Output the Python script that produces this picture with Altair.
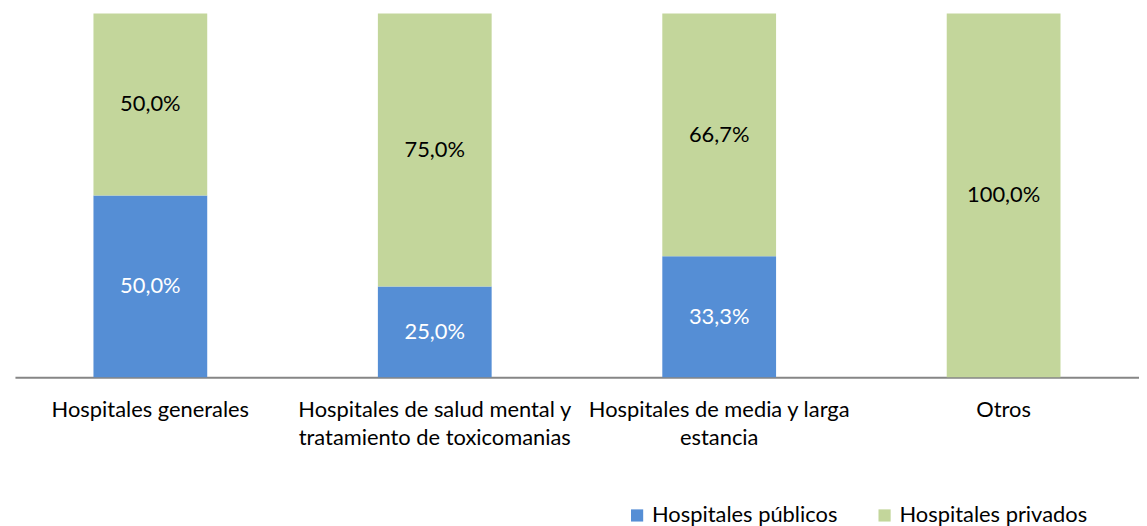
import altair as alt
import pandas as pd

categories = [
    "Hospitales generales",
    "Hospitales de salud mental y tratamiento de toxicomanias",
    "Hospitales de media y larga estancia",
    "Otros",
]
label_lines = [
    ["Hospitales generales"],
    ["Hospitales de salud mental y", "tratamiento de toxicomanias"],
    ["Hospitales de media y larga", "estancia"],
    ["Otros"],
]
series = ["Hospitales públicos", "Hospitales privados"]
publicos = [50.0, 25.0, 33.3, 0.0]
privados = [50.0, 75.0, 66.7, 100.0]
colors = ["#558ED5", "#C3D69B"]
text_colors = ["#FFFFFF", "#000000"]

rows = []
for i, c in enumerate(categories):
    for s_idx, (s, vals) in enumerate(zip(series, [publicos, privados])):
        v = vals[i]
        rows.append({
            "cat": c,
            "serie": s,
            "ord": s_idx,
            "val": v,
            "lab": (f"{v:.1f}".replace(".", ",") + "%") if v > 0 else "",
            "tcol": text_colors[s_idx],
        })
df = pd.DataFrame(rows)

FONT = "Lato"
FS = 22

label_expr = " : ".join(
    f"datum.label == '{c}' ? {lines!r}" for c, lines in zip(categories, label_lines)
) + " : datum.label"

x_enc = alt.X(
    "cat:N",
    sort=categories,
    title=None,
    scale=alt.Scale(paddingInner=0.6, paddingOuter=0.276),
    axis=alt.Axis(labelExpr=label_expr),
)

bars = alt.Chart(df).mark_bar().encode(
    x=x_enc,
    y=alt.Y("val:Q", stack="zero", scale=alt.Scale(domain=[0, 100], nice=False), axis=None),
    color=alt.Color(
        "serie:N",
        scale=alt.Scale(domain=series, range=colors),
        legend=alt.Legend(
            title=None,
            orient="none",
            legendX=615,
            legendY=494,
            direction="horizontal",
            symbolType="square",
            symbolSize=150,
            symbolStrokeWidth=0,
            labelFont=FONT,
            labelFontSize=FS,
            labelColor="#000000",
            columnPadding=36,
            labelLimit=300,
        ),
    ),
    order=alt.Order("ord:Q"),
)

texts = alt.Chart(df).transform_stack(
    stack="val", groupby=["cat"], as_=["y0", "y1"], sort=[alt.SortField("ord")]
).transform_calculate(
    ymid="(datum.y0 + datum.y1) / 2"
).mark_text(font=FONT, fontSize=FS).encode(
    x=alt.X("cat:N", sort=categories, axis=alt.Axis(labelExpr=label_expr)),
    y=alt.Y("ymid:Q"),
    text="lab:N",
    color=alt.Color("tcol:N", scale=None),
)

chart = alt.layer(bars, texts).properties(
    width=1131,
    height=366,
    padding={"left": 7, "top": 4, "right": 0, "bottom": 148},
    autosize=alt.AutoSizeParams(type="none"),
).configure_view(stroke=None).configure_axisX(
    labelAngle=0,
    labelFont=FONT,
    labelFontSize=FS,
    labelColor="#000000",
    labelPadding=22,
    labelLineHeight=29,
    ticks=False,
    domainColor="#868686",
    domainWidth=2,
    labelLimit=400,
    grid=False,
)

chart.save("out.html", embed_options={"renderer": "svg", "actions": False})
